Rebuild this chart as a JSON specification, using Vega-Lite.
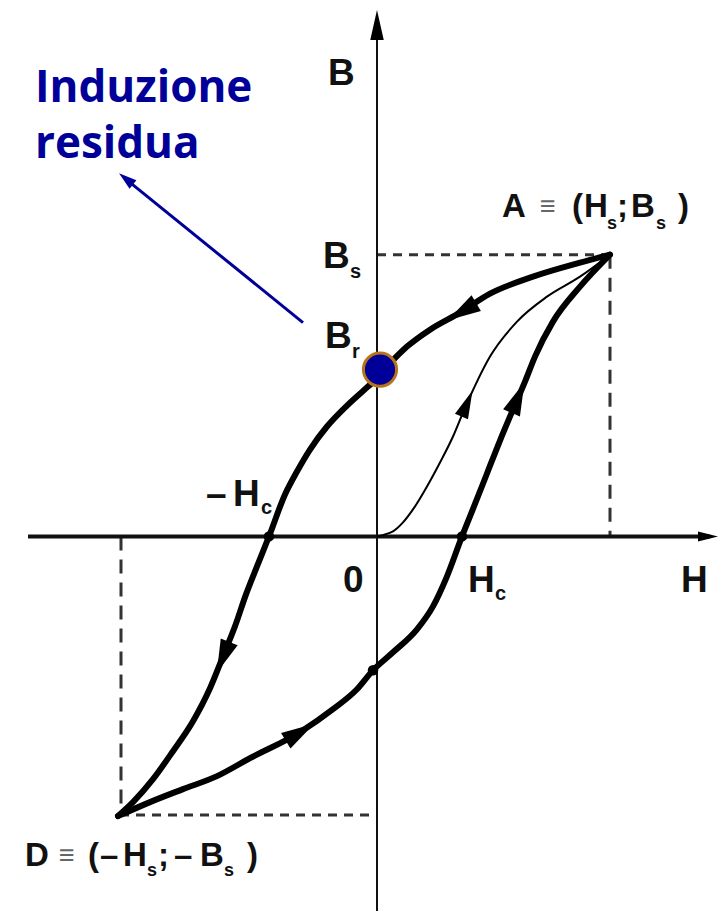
{
  "$schema": "https://vega.github.io/schema/vega-lite/v6.json",
  "width": 718,
  "height": 912,
  "autosize": {"type": "fit", "contains": "padding"},
  "padding": 0,
  "background": "white",
  "config": {"view": {"stroke": null}},
  "datasets": {
    "curves": [
      {"curve": "upper", "H": -259, "B": -280},
      {"curve": "upper", "H": -244, "B": -266},
      {"curve": "upper", "H": -224, "B": -243},
      {"curve": "upper", "H": -204, "B": -215},
      {"curve": "upper", "H": -184, "B": -185},
      {"curve": "upper", "H": -167, "B": -152},
      {"curve": "upper", "H": -154, "B": -120},
      {"curve": "upper", "H": -142, "B": -90},
      {"curve": "upper", "H": -131, "B": -58},
      {"curve": "upper", "H": -120, "B": -30},
      {"curve": "upper", "H": -108, "B": 0},
      {"curve": "upper", "H": -92, "B": 42},
      {"curve": "upper", "H": -80, "B": 65},
      {"curve": "upper", "H": -67, "B": 87},
      {"curve": "upper", "H": -50, "B": 110},
      {"curve": "upper", "H": -30, "B": 131},
      {"curve": "upper", "H": -9, "B": 150},
      {"curve": "upper", "H": 0, "B": 158},
      {"curve": "upper", "H": 12, "B": 172},
      {"curve": "upper", "H": 30, "B": 190},
      {"curve": "upper", "H": 53, "B": 207},
      {"curve": "upper", "H": 83, "B": 224},
      {"curve": "upper", "H": 113, "B": 243},
      {"curve": "upper", "H": 156, "B": 260},
      {"curve": "upper", "H": 203, "B": 274},
      {"curve": "upper", "H": 233, "B": 282},
      {"curve": "lower", "H": -259, "B": -280},
      {"curve": "lower", "H": -227, "B": -266},
      {"curve": "lower", "H": -194, "B": -253},
      {"curve": "lower", "H": -160, "B": -240},
      {"curve": "lower", "H": -127, "B": -222},
      {"curve": "lower", "H": -77, "B": -196},
      {"curve": "lower", "H": -44, "B": -173},
      {"curve": "lower", "H": -20, "B": -153},
      {"curve": "lower", "H": -4, "B": -134},
      {"curve": "lower", "H": 16, "B": -116},
      {"curve": "lower", "H": 40, "B": -93},
      {"curve": "lower", "H": 56, "B": -70},
      {"curve": "lower", "H": 70, "B": -40},
      {"curve": "lower", "H": 85, "B": 0},
      {"curve": "lower", "H": 97, "B": 30},
      {"curve": "lower", "H": 110, "B": 63},
      {"curve": "lower", "H": 123, "B": 96},
      {"curve": "lower", "H": 136, "B": 127},
      {"curve": "lower", "H": 148, "B": 155},
      {"curve": "lower", "H": 158, "B": 180},
      {"curve": "lower", "H": 176, "B": 215},
      {"curve": "lower", "H": 203, "B": 250},
      {"curve": "lower", "H": 233, "B": 282}
    ],
    "virgin": [
      {"H": 0, "B": 0},
      {"H": 8, "B": 2},
      {"H": 16, "B": 5},
      {"H": 26, "B": 14},
      {"H": 36, "B": 27},
      {"H": 50, "B": 50},
      {"H": 63, "B": 74},
      {"H": 76, "B": 100},
      {"H": 86, "B": 124},
      {"H": 100, "B": 155},
      {"H": 113, "B": 180},
      {"H": 140, "B": 215},
      {"H": 170, "B": 240},
      {"H": 203, "B": 260},
      {"H": 233, "B": 282}
    ],
    "guides": [
      {"kind": "short", "H": 0, "B": 282, "H2": 233, "B2": 282},
      {"kind": "long", "H": 233, "B": 282, "H2": 233, "B2": 0},
      {"kind": "long", "H": -256, "B": 0, "H2": -256, "B2": -279},
      {"kind": "short", "H": -257, "B": -279, "H2": 0, "B2": -279}
    ],
    "axes": [
      {"axis": "H", "H": -349, "B": 0, "H2": 333, "B2": 0},
      {"axis": "B", "H": 0, "B": 520, "H2": 0, "B2": -375}
    ],
    "arrows": [
      {"name": "a1", "H": 85, "B": 225},
      {"name": "a2", "H": -154, "B": -121},
      {"name": "a3", "H": -77, "B": -196},
      {"name": "a4", "H": 141, "B": 139},
      {"name": "a5", "H": 90, "B": 133},
      {"name": "axisB", "H": 0, "B": 512},
      {"name": "axisH", "H": 331, "B": 0},
      {"name": "blue", "H": -251, "B": 358}
    ],
    "crossings": [
      {"H": -108, "B": 0},
      {"H": 85, "B": 0},
      {"H": -4, "B": -134}
    ],
    "bigLabels": [
      {"t": "B", "H": -49, "B": 452},
      {"t": "B", "H": -54, "B": 269},
      {"t": "B", "H": -52, "B": 189},
      {"t": "–", "H": -171, "B": 30},
      {"t": "H", "H": -144, "B": 30},
      {"t": "0", "H": -34, "B": -56},
      {"t": "H", "H": 91, "B": -56},
      {"t": "H", "H": 304, "B": -56}
    ],
    "bigSubs": [
      {"t": "s", "H": -27, "B": 259},
      {"t": "r", "H": -25, "B": 179},
      {"t": "c", "H": -116, "B": 22},
      {"t": "c", "H": 118, "B": -64}
    ],
    "pointLabels": [
      {"t": "A", "H": 125, "B": 320},
      {"t": "(", "H": 195, "B": 320},
      {"t": "H", "H": 207, "B": 320},
      {"t": ";", "H": 240, "B": 320},
      {"t": "B", "H": 254, "B": 320},
      {"t": ")", "H": 301, "B": 320},
      {"t": "D", "H": -352, "B": -330},
      {"t": "(", "H": -289, "B": -330},
      {"t": "–", "H": -277, "B": -330},
      {"t": "H", "H": -254, "B": -330},
      {"t": ";", "H": -219, "B": -330},
      {"t": "–", "H": -203, "B": -330},
      {"t": "B", "H": -177, "B": -330},
      {"t": ")", "H": -130, "B": -330}
    ],
    "equiv": [
      {"t": "≡", "H": 163, "B": 322},
      {"t": "≡", "H": -318, "B": -328}
    ],
    "pointSubs": [
      {"t": "s", "H": 230, "B": 308},
      {"t": "s", "H": 279, "B": 308},
      {"t": "s", "H": -230, "B": -340},
      {"t": "s", "H": -153, "B": -340}
    ],
    "blue": [
      {"t": "Induzione", "H": -342, "B": 435},
      {"t": "residua", "H": -342, "B": 379}
    ],
    "pointer": [
      {"H": -74, "B": 214, "H2": -249, "B2": 356}
    ],
    "remanence": [
      {"H": 3, "B": 167}
    ]
  },
  "encoding": {
    "x": {"field": "H", "type": "quantitative", "scale": {"domain": [-377, 341], "nice": false, "zero": false}, "axis": null},
    "y": {"field": "B", "type": "quantitative", "scale": {"domain": [-375, 537], "nice": false, "zero": false}, "axis": null}
  },
  "layer": [
    {
      "data": {"name": "guides"},
      "mark": {"type": "rule", "color": "#333333", "strokeWidth": 3},
      "encoding": {
        "x2": {"field": "H2"},
        "y2": {"field": "B2"},
        "strokeDash": {"field": "kind", "type": "nominal", "scale": {"domain": ["short", "long"], "range": [[9, 7], [14, 9]]}, "legend": null}
      }
    },
    {
      "data": {"name": "axes"},
      "mark": {"type": "rule", "color": "#111111"},
      "encoding": {
        "x2": {"field": "H2"},
        "y2": {"field": "B2"},
        "strokeWidth": {"field": "axis", "type": "nominal", "scale": {"domain": ["H", "B"], "range": [4, 2]}, "legend": null}
      }
    },
    {
      "data": {"name": "curves"},
      "mark": {"type": "line", "color": "black", "strokeWidth": 6, "interpolate": "monotone", "strokeCap": "round", "strokeJoin": "round"},
      "encoding": {
        "detail": {"field": "curve", "type": "nominal"}
      }
    },
    {
      "data": {"name": "virgin"},
      "mark": {"type": "line", "color": "black", "strokeWidth": 2, "interpolate": "monotone"},
      "encoding": {}
    },
    {
      "data": {"name": "crossings"},
      "mark": {"type": "point", "shape": "circle", "filled": true, "color": "black", "size": 110, "opacity": 1}
    },
    {
      "data": {"name": "arrows"},
      "transform": [{"filter": "datum.name == 'a1'"}],
      "mark": {"type": "point", "shape": "M0,-1L0.55,1L-0.55,1Z", "filled": true, "color": "black", "size": 1100, "angle": 239, "opacity": 1}
    },
    {
      "data": {"name": "arrows"},
      "transform": [{"filter": "datum.name == 'a2'"}],
      "mark": {"type": "point", "shape": "M0,-1L0.55,1L-0.55,1Z", "filled": true, "color": "black", "size": 1100, "angle": 202, "opacity": 1}
    },
    {
      "data": {"name": "arrows"},
      "transform": [{"filter": "datum.name == 'a3'"}],
      "mark": {"type": "point", "shape": "M0,-1L0.55,1L-0.55,1Z", "filled": true, "color": "black", "size": 1100, "angle": 59, "opacity": 1}
    },
    {
      "data": {"name": "arrows"},
      "transform": [{"filter": "datum.name == 'a4'"}],
      "mark": {"type": "point", "shape": "M0,-1L0.55,1L-0.55,1Z", "filled": true, "color": "black", "size": 1100, "angle": 23, "opacity": 1}
    },
    {
      "data": {"name": "arrows"},
      "transform": [{"filter": "datum.name == 'a5'"}],
      "mark": {"type": "point", "shape": "M0,-1L0.5,1L-0.5,1Z", "filled": true, "color": "black", "size": 800, "angle": 23, "opacity": 1}
    },
    {
      "data": {"name": "arrows"},
      "transform": [{"filter": "datum.name == 'axisB'"}],
      "mark": {"type": "point", "shape": "M0,-1L0.45,1L-0.45,1Z", "filled": true, "color": "black", "size": 900, "angle": 0, "opacity": 1}
    },
    {
      "data": {"name": "arrows"},
      "transform": [{"filter": "datum.name == 'axisH'"}],
      "mark": {"type": "point", "shape": "M0,-1L0.5,1L-0.5,1Z", "filled": true, "color": "black", "size": 400, "angle": 90, "opacity": 1}
    },
    {
      "data": {"name": "pointer"},
      "mark": {"type": "rule", "color": "#000099", "strokeWidth": 3},
      "encoding": {
        "x2": {"field": "H2"},
        "y2": {"field": "B2"}
      }
    },
    {
      "data": {"name": "arrows"},
      "transform": [{"filter": "datum.name == 'blue'"}],
      "mark": {"type": "point", "shape": "M0,-1L0.6,1L-0.6,1Z", "filled": true, "color": "#000099", "size": 324, "angle": 309, "opacity": 1}
    },
    {
      "data": {"name": "bigLabels"},
      "mark": {"type": "text", "align": "left", "baseline": "alphabetic", "font": "Liberation Sans", "fontWeight": "bold", "fontSize": 37, "color": "#111111"},
      "encoding": {"text": {"field": "t"}}
    },
    {
      "data": {"name": "bigSubs"},
      "mark": {"type": "text", "align": "left", "baseline": "alphabetic", "font": "Liberation Sans", "fontWeight": "bold", "fontSize": 20, "color": "#111111"},
      "encoding": {"text": {"field": "t"}}
    },
    {
      "data": {"name": "pointLabels"},
      "mark": {"type": "text", "align": "left", "baseline": "alphabetic", "font": "Liberation Sans", "fontWeight": "bold", "fontSize": 33, "color": "#111111"},
      "encoding": {"text": {"field": "t"}}
    },
    {
      "data": {"name": "equiv"},
      "mark": {"type": "text", "align": "left", "baseline": "alphabetic", "font": "Liberation Sans", "fontWeight": "bold", "fontSize": 27, "color": "#666666"},
      "encoding": {"text": {"field": "t"}}
    },
    {
      "data": {"name": "pointSubs"},
      "mark": {"type": "text", "align": "left", "baseline": "alphabetic", "font": "Liberation Sans", "fontWeight": "bold", "fontSize": 18, "color": "#111111"},
      "encoding": {"text": {"field": "t"}}
    },
    {
      "data": {"name": "blue"},
      "mark": {"type": "text", "align": "left", "baseline": "alphabetic", "font": "Open Sans", "fontWeight": "bold", "fontSize": 44, "color": "#000099"},
      "encoding": {"text": {"field": "t"}}
    },
    {
      "data": {"name": "remanence"},
      "mark": {"type": "point", "shape": "circle", "filled": true, "color": "#000099", "stroke": "#b8741a", "strokeWidth": 3, "size": 1100, "opacity": 1}
    }
  ]
}
